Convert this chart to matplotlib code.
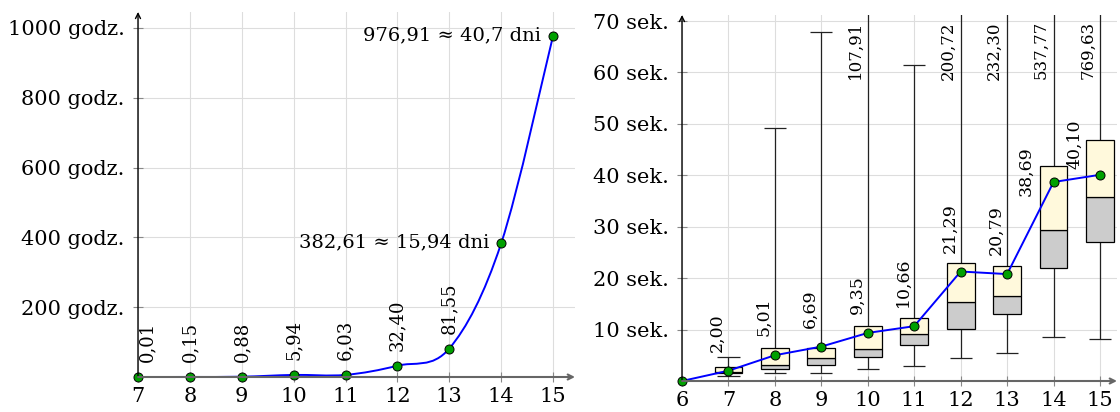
import matplotlib
matplotlib.use("Agg")
import matplotlib.pyplot as plt
from matplotlib.path import Path
from matplotlib.patches import PathPatch, Rectangle

plt.rcParams['font.family'] = ['DejaVu Serif']

# ---- left panel: total time (hours) for n ----
n_left = [7, 8, 9, 10, 11, 12, 13, 14, 15]
hours = [0.01, 0.15, 0.88, 5.94, 6.03, 32.40, 81.55, 382.61, 976.91]
day_n = [14, 15]
days = [15.94, 40.7]
left_yticks = [200, 400, 600, 800, 1000]
left_yticklabels = ['200 godz.', '400 godz.', '600 godz.', '800 godz.', '1000 godz.']

# ---- right panel: per-run time (seconds) ----
mean_n = [6, 7, 8, 9, 10, 11, 12, 13, 14, 15]
means = [0.0, 2.00, 5.01, 6.69, 9.35, 10.66, 21.29, 20.79, 38.69, 40.10]
box_n = [7, 8, 9, 10, 11, 12, 13, 14, 15]
q1 = [1.5, 2.3, 3.1, 4.7, 7.0, 10.2, 13.1, 21.9, 27.0]
med = [1.75, 3.2, 4.4, 6.3, 9.1, 15.3, 16.6, 29.4, 35.7]
q3 = [2.8, 6.35, 6.5, 10.7, 12.3, 23.0, 22.3, 41.8, 46.9]
wmin = [1.0, 1.6, 1.5, 2.3, 3.0, 4.5, 5.5, 8.6, 8.2]
wmax = [4.7, 49.2, 67.8, 107.91, 61.5, 200.72, 232.30, 537.77, 769.63]
right_yticks = [10, 20, 30, 40, 50, 60, 70]
right_yticklabels = ['10 sek.', '20 sek.', '30 sek.', '40 sek.', '50 sek.', '60 sek.', '70 sek.']


def pl(v, fmt='{:.2f}'):
    return fmt.format(v).replace('.', ',')


def smooth_path(xs, ys, k=1 / 6):
    # tikz-like "smooth" plot: cubic bezier through the data points
    pts = list(zip(xs, ys))
    verts = [pts[0]]
    codes = [Path.MOVETO]
    n = len(pts)
    for i in range(n - 1):
        p0 = pts[i - 1] if i > 0 else pts[i]
        p1 = pts[i]
        p2 = pts[i + 1]
        p3 = pts[i + 2] if i + 2 < n else pts[i + 1]
        c1 = (p1[0] + k * (p2[0] - p0[0]), p1[1] + k * (p2[1] - p0[1]))
        c2 = (p2[0] - k * (p3[0] - p1[0]), p2[1] - k * (p3[1] - p1[1]))
        verts += [c1, c2, p2]
        codes += [Path.CURVE4] * 3
    return Path(verts, codes)


def style_axes(ax):
    for s in ax.spines.values():
        s.set_visible(False)
    ax.grid(True, color='#dddddd', lw=0.8, zorder=0)
    ax.set_axisbelow(True)
    ax.tick_params(direction='inout', length=7, width=0.8, color='#888888',
                   labelsize=15, pad=4)
    ax.tick_params(axis='y', pad=6)
    ax.annotate('', xy=(0, 1), xytext=(0, 0), xycoords='axes fraction',
                arrowprops=dict(arrowstyle='->', color='black', lw=1.0,
                                shrinkA=0, shrinkB=0, mutation_scale=9),
                zorder=6)
    ax.annotate('', xy=(1, 0), xytext=(0, 0), xycoords='axes fraction',
                arrowprops=dict(arrowstyle='->', color='#666666', lw=1.5,
                                shrinkA=0, shrinkB=0, mutation_scale=9),
                zorder=6)


fig = plt.figure(figsize=(11.2, 4.12), dpi=100)

# ================= left panel =================
ax = fig.add_axes([138 / 1120, 35 / 412, 437 / 1120, 365 / 412])
style_axes(ax)
ax.set_xlim(7, 15.424)
ax.set_ylim(0, 1045.8)
ax.set_xticks(n_left)
ax.set_yticks(left_yticks)
ax.set_yticklabels(left_yticklabels)

ax.add_patch(PathPatch(smooth_path(n_left, hours), fill=False,
                       edgecolor='blue', lw=1.4, zorder=3))
ax.plot(n_left, hours, 'o', ms=6.5, mfc='#00a000', mec='black', mew=0.7,
        zorder=5, clip_on=False)

for i, (x, y) in enumerate(zip(n_left, hours)):
    if x in day_n:
        d = days[day_n.index(x)]
        ax.annotate(f'{pl(y)} \u2248 {str(d).replace(".", ",")} dni', xy=(x, y),
                    xytext=(-12, 1), textcoords='offset pixels',
                    ha='right', va='center', fontsize=14)
    else:
        dx = 9 if i == 0 else 0
        ax.annotate(pl(y), xy=(x, y), xytext=(dx, 15),
                    textcoords='offset pixels', rotation=90,
                    ha='center', va='bottom', fontsize=13)

# ================= right panel =================
ax = fig.add_axes([682 / 1120, 31 / 412, 435 / 1120, 366 / 412])
style_axes(ax)
ax.set_xlim(6, 15.366)
ax.set_ylim(0, 71.17)
ax.set_xticks(mean_n)
ax.set_yticks(right_yticks)
ax.set_yticklabels(right_yticklabels)

bw = 0.6
cw = 0.48
for x, a, m, b, lo, hi in zip(box_n, q1, med, q3, wmin, wmax):
    ax.vlines(x, lo, a, color='#222222', lw=0.9, zorder=2)
    ax.vlines(x, b, hi, color='#222222', lw=0.9, zorder=2)
    ax.hlines([lo, hi], x - cw / 2, x + cw / 2, color='#222222', lw=0.9, zorder=2)
    ax.add_patch(Rectangle((x - bw / 2, a), bw, m - a, facecolor='#cccccc',
                           edgecolor='black', lw=0.9, zorder=2.5))
    ax.add_patch(Rectangle((x - bw / 2, m), bw, b - m, facecolor='#fff9dc',
                           edgecolor='black', lw=0.9, zorder=2.5))
    if hi > ax.get_ylim()[1]:
        ax.annotate(pl(hi), xy=(x, 1), xycoords=('data', 'axes fraction'),
                    xytext=(-4, -6), textcoords='offset pixels', rotation=90,
                    ha='right', va='top', fontsize=12)

ax.plot(mean_n, means, '-', color='blue', lw=1.4, zorder=3)
ax.plot(mean_n, means, 'o', ms=6.5, mfc='#00a000', mec='black', mew=0.7,
        zorder=5, clip_on=False)

for x, y in zip(mean_n[1:], means[1:]):
    if x == 14:
        off = (-28, -14)
    elif x == 15:
        off = (-25, 6)
    else:
        off = (-11, 19)
    ax.annotate(pl(y), xy=(x, y), xytext=off, textcoords='offset pixels',
                rotation=90, ha='center', va='bottom', fontsize=12.5, zorder=6)

fig.savefig('out.png', dpi=100)
